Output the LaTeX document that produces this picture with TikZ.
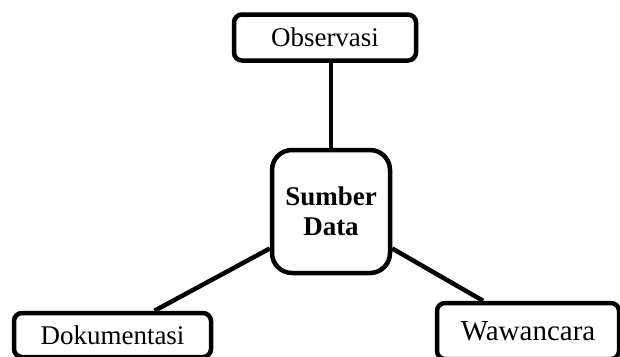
\documentclass[tikz,border=0pt]{standalone}
\usepackage{fontspec}
\setmainfont{Liberation Serif}
\usepackage{tikz}

\begin{document}
\begin{tikzpicture}[x=1pt, y=-1pt, line width=4.5pt,
    box/.style={draw, rounded corners=8pt, fill=white, inner sep=0pt, font=\fontsize{27}{30}\selectfont}]
                    \useasboundingbox (0,0) rectangle (620,356);
                    \clip (0,0) rectangle (620,356);
                    \node[box, minimum width=182pt, minimum height=46pt] (obs) at (325, 37.5) {Observasi};
                    \node[box, rounded corners=20pt, minimum width=118pt, minimum height=123pt, align=center, font=\fontsize{27}{30}\selectfont\bfseries] (src) at (331, 211.5) {Sumber\\Data};
                    \node[box, minimum width=197pt, minimum height=44pt] (dok) at (112.5, 335) {Dokumentasi};
                    \node[box, minimum width=182pt, minimum height=56pt, font=\fontsize{29}{32}\selectfont] (waw) at (528, 331) {Wawancara};
                    \draw (src.north) -- (src.north |- obs.south);
                    \draw ([yshift=-37pt]src.west) -- ([xshift=42pt]dok.north);
                    \draw ([yshift=-37pt]src.east) -- ([xshift=-45pt]waw.north);
                \end{tikzpicture}
\end{document}
